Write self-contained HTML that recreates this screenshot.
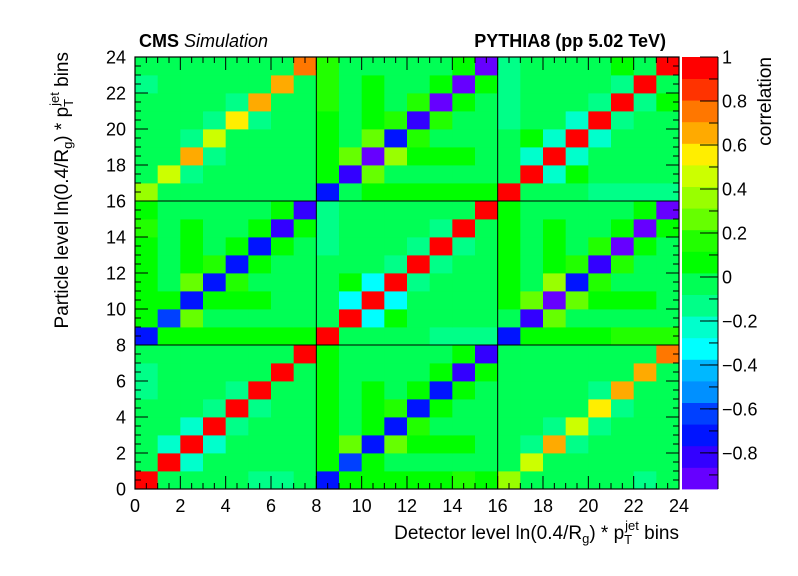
<!DOCTYPE html>
<html><head><meta charset="utf-8"><style>
html,body{margin:0;padding:0;background:#fff;}
svg{display:block;font-family:"Liberation Sans",Arial,sans-serif;}
</style></head><body>
<svg id="chart" width="798" height="576" viewBox="0 0 798 576" xmlns="http://www.w3.org/2000/svg">
<rect x="0" y="0" width="798" height="576" fill="#fff"/>
<g id="cells"></g>
<g id="grid"></g>
<g id="frame"></g>
<g id="axes"></g>
<g id="cbar"></g>
<text x="139" y="47" font-size="18" font-weight="bold">CMS <tspan font-weight="normal" font-style="italic">Simulation</tspan></text>
<text x="666" y="47" font-size="18" font-weight="bold" text-anchor="end">PYTHIA8 (pp 5.02 TeV)</text>
<text x="679" y="539" font-size="19" text-anchor="end">Detector level ln(0.4/R<tspan font-size="13" dy="4">g</tspan><tspan dy="-4">) * p</tspan><tspan font-size="13" dy="5">T</tspan><tspan font-size="13" dx="-7" dy="-14">jet</tspan><tspan dy="9"> bins</tspan></text>
<text transform="translate(68,52) rotate(-90)" font-size="19" text-anchor="end">Particle level ln(0.4/R<tspan font-size="13" dy="4">g</tspan><tspan dy="-4">) * p</tspan><tspan font-size="13" dy="5">T</tspan><tspan font-size="13" dx="-7" dy="-14">jet</tspan><tspan dy="9"> bins</tspan></text>
<text transform="translate(771,57) rotate(-90)" font-size="19" text-anchor="end">correlation</text>
</svg>
<script>
// lower triangle of the symmetric 24x24 correlation matrix, row j holds columns 0..j
const lowerTriangle = [
[1],
[-0.03,1],
[-0.03,-0.23,1],
[-0.03,-0.03,-0.23,1],
[-0.03,-0.03,-0.03,-0.13,1],
[-0.13,-0.03,-0.03,-0.03,-0.13,1],
[-0.13,-0.03,-0.03,-0.03,-0.03,-0.03,1],
[-0.03,-0.03,-0.03,-0.03,-0.03,-0.03,-0.03,1],
[-0.72,0.07,0.07,0.07,0.07,0.07,0.07,0.07,1],
[0.07,-0.62,0.26,-0.03,-0.03,-0.03,-0.03,-0.03,-0.03,1],
[0.07,0.07,-0.72,0.07,0.07,0.07,-0.03,-0.03,-0.03,-0.33,1],
[0.07,-0.03,0.26,-0.72,0.17,-0.03,-0.03,-0.03,-0.03,0.07,-0.33,1],
[0.07,-0.03,0.07,0.17,-0.72,0.07,-0.03,-0.03,-0.03,-0.03,-0.03,-0.13,1],
[0.07,-0.03,0.07,-0.03,0.07,-0.72,0.07,-0.03,-0.13,-0.03,-0.03,-0.03,-0.13,1],
[0.17,-0.03,0.07,-0.03,-0.03,0.07,-0.82,0.07,-0.13,-0.03,-0.03,-0.03,-0.03,-0.13,1],
[0.07,-0.03,-0.03,-0.03,-0.03,-0.03,0.07,-0.82,-0.13,-0.03,-0.03,-0.03,-0.03,-0.03,-0.03,1],
[0.36,-0.03,-0.03,-0.03,-0.03,-0.03,-0.03,-0.03,-0.72,-0.03,0.07,0.07,0.07,0.07,0.07,0.07,1],
[-0.03,0.46,-0.13,-0.03,-0.03,-0.03,-0.03,-0.03,0.07,-0.82,0.26,-0.03,-0.03,-0.03,-0.03,-0.03,-0.03,1],
[-0.03,-0.03,0.66,-0.13,-0.03,-0.03,-0.03,-0.03,0.07,0.26,-0.92,0.36,0.07,0.07,0.07,-0.03,-0.03,-0.23,1],
[-0.03,-0.03,-0.13,0.46,-0.03,-0.03,-0.03,-0.03,0.07,-0.03,0.26,-0.72,0.17,-0.03,-0.03,-0.03,-0.03,0.07,-0.23,1],
[-0.03,-0.03,-0.03,-0.13,0.56,-0.13,-0.03,-0.03,0.07,-0.03,0.07,0.17,-0.82,0.17,-0.03,-0.03,-0.13,-0.03,-0.03,-0.23,1],
[-0.03,-0.03,-0.03,-0.03,-0.13,0.66,-0.03,-0.03,0.17,-0.03,0.07,-0.03,0.17,-0.92,0.07,-0.03,-0.13,-0.03,-0.03,-0.03,-0.13,1],
[-0.13,-0.03,-0.03,-0.03,-0.03,-0.03,0.66,-0.03,0.17,-0.03,0.07,-0.03,-0.03,0.07,-0.92,0.07,-0.13,-0.03,-0.03,-0.03,-0.03,-0.13,1],
[-0.03,-0.03,-0.03,-0.03,-0.03,-0.03,-0.03,0.75,0.17,-0.03,-0.03,-0.03,-0.03,-0.03,0.07,-0.92,-0.13,-0.03,-0.03,-0.03,-0.03,0.07,-0.03,1]
];
const xTickLabels = [0,2,4,6,8,10,12,14,16,18,20,22,24];
const yTickLabels = [0,2,4,6,8,10,12,14,16,18,20,22,24];
const zTickValues = [1,0.8,0.6,0.4,0.2,0,-0.2,-0.4,-0.6,-0.8];
const zTickLabels = ["1","0.8","0.6","0.4","0.2","0","\u22120.2","\u22120.4","\u22120.6","\u22120.8"];
const paletteColors = ["#6600ff","#3300ff","#0014ff","#0040ff","#0090ff","#00b8ff","#00ffff","#00ffcc","#00ff88","#00ff55","#00ff00","#22ff00","#66ff00","#99ff00","#ccff00","#ffee00","#ffaa00","#ff7700","#ff3300","#ff0000"];
const zMin = -0.964, zMax = 1;

const NS = "http://www.w3.org/2000/svg";
const X0 = 135, X1 = 679, Y0 = 57, Y1 = 489, NB = 24;
const xScale = v => X0 + (X1 - X0) * v / NB;
const yScale = v => Y1 - (Y1 - Y0) * v / NB;
const zScale = v => Y1 - (Y1 - Y0) * (v - zMin) / (zMax - zMin);
function colorOf(v){
  let k = Math.floor((v - zMin) / (zMax - zMin) * paletteColors.length);
  k = Math.max(0, Math.min(paletteColors.length - 1, k));
  return paletteColors[k];
}
function mk(tag, attrs, parent){
  const e = document.createElementNS(NS, tag);
  for (const k in attrs) e.setAttribute(k, attrs[k]);
  parent.appendChild(e);
  return e;
}
function valueAt(i, j){ return i <= j ? lowerTriangle[j][i] : lowerTriangle[i][j]; }

const cells = document.getElementById('cells');
for (let j = 0; j < NB; j++) for (let i = 0; i < NB; i++) {
  const v = valueAt(i, j);
  const x = xScale(i), y = yScale(j + 1);
  const r = mk('rect', {x: x, y: y, width: xScale(i + 1) - x + 0.4, height: yScale(j) - y + 0.4, fill: colorOf(v)}, cells);
  
  
}
const grid = document.getElementById('grid');
[8, 16].forEach(b => {
  const l1 = mk('line', {x1: xScale(b), x2: xScale(b), y1: Y0, y2: Y1, stroke: '#000', 'stroke-width': 1}, grid);
  
  
  const l2 = mk('line', {x1: X0, x2: X1, y1: yScale(b), y2: yScale(b), stroke: '#000', 'stroke-width': 1}, grid);
  
  
});
const frame = document.getElementById('frame');
const fr = mk('rect', {x: X0, y: Y0, width: X1 - X0, height: Y1 - Y0, fill: 'none', stroke: '#000', 'stroke-width': 1.2}, frame);



const axes = document.getElementById('axes');
for (let t = 0; t <= NB * 2; t++) {
  const v = t / 2, major = (t % 4 === 0);
  const lx = major ? 13 : 6, ly = major ? 13 : 6;
  const x = xScale(v), y = yScale(v);
  mk('line', {x1: x, x2: x, y1: Y1, y2: Y1 - lx, stroke: '#000'}, axes);
  mk('line', {x1: x, x2: x, y1: Y0, y2: Y0 + lx, stroke: '#000'}, axes);
  mk('line', {x1: X0, x2: X0 + ly, y1: y, y2: y, stroke: '#000'}, axes);
  mk('line', {x1: X1, x2: X1 - ly, y1: y, y2: y, stroke: '#000'}, axes);
}
xTickLabels.forEach(v => {
  const t = mk('text', {x: xScale(v), y: 512, 'font-size': 18, 'text-anchor': 'middle'}, axes);
  t.textContent = v;
  
  
});
yTickLabels.forEach(v => {
  const t = mk('text', {x: 126, y: yScale(v) + 6.5, 'font-size': 18, 'text-anchor': 'end'}, axes);
  t.textContent = v;
  
  
});

const cbar = document.getElementById('cbar');
const CX0 = 682, CX1 = 718;
paletteColors.forEach((c, k) => {
  const lo = zMin + (zMax - zMin) * k / paletteColors.length;
  const hi = zMin + (zMax - zMin) * (k + 1) / paletteColors.length;
  const r = mk('rect', {x: CX0, y: zScale(hi), width: CX1 - CX0, height: zScale(lo) - zScale(hi) + 0.4, fill: c}, cbar);
  
  
});
mk('line', {x1: CX1, x2: CX1, y1: Y0, y2: Y1, stroke: '#000'}, cbar);
zTickValues.forEach((v, i) => {
  const y = zScale(v);
  mk('line', {x1: CX1, x2: CX1 - 18, y1: y, y2: y, stroke: '#000'}, cbar);
  const t = mk('text', {x: 722, y: y + 6.5, 'font-size': 18}, cbar);
  t.textContent = zTickLabels[i];
  
  
});
for (let v = -0.9; v < 1; v += 0.1) {
  const y = zScale(v);
  mk('line', {x1: CX1, x2: CX1 - 9, y1: y, y2: y, stroke: '#000'}, cbar);
}
</script>
</body></html>
